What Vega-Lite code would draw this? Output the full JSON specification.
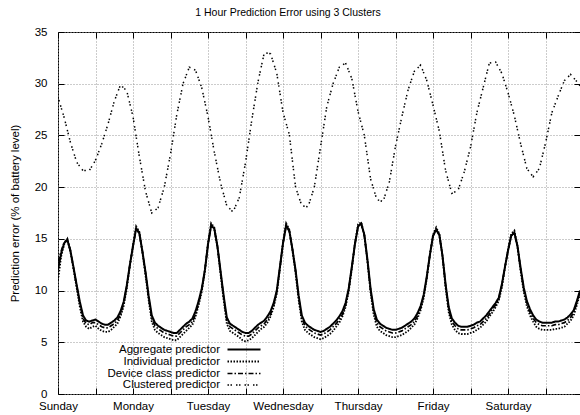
{
  "$schema": "https://vega.github.io/schema/vega-lite/v6.json",
  "width": 522,
  "height": 362,
  "autosize": "none",
  "padding": {"left": 58, "top": 32, "right": 0, "bottom": 21},
  "background": "white",
  "config": {
    "font": "Liberation Sans",
    "view": {"stroke": "black", "strokeWidth": 1},
    "axis": {"labelFont": "Liberation Sans", "labelFontSize": 11.5, "labelColor": "black", "titleFont": "Liberation Sans", "titleFontSize": 11.5, "titleFontWeight": "normal", "titleColor": "black", "tickColor": "black", "tickWidth": 1, "domain": false, "gridColor": "#999999", "gridDash": [1, 2], "gridWidth": 1}
  },
  "title": {"text": "1 Hour Prediction Error using 3 Clusters", "fontSize": 10.5, "fontWeight": "normal", "font": "Liberation Sans", "color": "black", "anchor": "middle", "dx": -31, "offset": 8},
  "datasets": {
    "lower": [
      {"h":0,"a":12.0,"i":11.0,"d":12.8},{"h":1,"a":13.6,"i":13.3,"d":13.8},{"h":2,"a":14.6,"i":14.5,"d":14.7},{"h":3,"a":14.9,"i":15.0,"d":14.9},{"h":4,"a":13.8,"i":13.7,"d":13.9},{"h":5,"a":12.2,"i":12.0,"d":12.1},{"h":6,"a":10.5,"i":10.2,"d":10.4},{"h":7,"a":8.9,"i":8.4,"d":8.7},{"h":8,"a":7.6,"i":7.0,"d":7.3},{"h":9,"a":7.1,"i":6.5,"d":6.8},
      {"h":10,"a":7.0,"i":6.3,"d":6.7},{"h":11,"a":7.1,"i":6.5,"d":6.9},{"h":12,"a":7.2,"i":6.6,"d":6.9},{"h":13,"a":7.0,"i":6.3,"d":6.7},{"h":14,"a":6.8,"i":6.1,"d":6.5},{"h":15,"a":6.7,"i":6.0,"d":6.4},{"h":16,"a":6.7,"i":6.0,"d":6.4},{"h":17,"a":6.9,"i":6.2,"d":6.6},{"h":18,"a":7.1,"i":6.5,"d":6.8},{"h":19,"a":7.4,"i":6.8,"d":7.1},
      {"h":20,"a":8.0,"i":7.5,"d":7.7},{"h":21,"a":8.9,"i":8.5,"d":8.7},{"h":22,"a":10.5,"i":10.2,"d":10.4},{"h":23,"a":12.5,"i":12.4,"d":12.5},{"h":24,"a":14.3,"i":14.4,"d":14.3},{"h":25,"a":16.0,"i":16.2,"d":16.0},{"h":26,"a":15.6,"i":15.7,"d":15.5},{"h":27,"a":13.8,"i":13.7,"d":13.8},{"h":28,"a":11.8,"i":11.5,"d":11.7},{"h":29,"a":9.5,"i":9.1,"d":9.3},
      {"h":30,"a":7.6,"i":7.0,"d":7.3},{"h":31,"a":6.9,"i":6.2,"d":6.6},{"h":32,"a":6.6,"i":5.9,"d":6.3},{"h":33,"a":6.4,"i":5.7,"d":6.1},{"h":34,"a":6.2,"i":5.5,"d":5.9},{"h":35,"a":6.1,"i":5.4,"d":5.8},{"h":36,"a":6.0,"i":5.3,"d":5.7},{"h":37,"a":5.9,"i":5.2,"d":5.6},{"h":38,"a":5.9,"i":5.2,"d":5.6},{"h":39,"a":6.2,"i":5.5,"d":5.9},
      {"h":40,"a":6.5,"i":5.8,"d":6.2},{"h":41,"a":6.8,"i":6.1,"d":6.5},{"h":42,"a":7.0,"i":6.4,"d":6.7},{"h":43,"a":7.3,"i":6.7,"d":7.0},{"h":44,"a":8.0,"i":7.5,"d":7.7},{"h":45,"a":9.0,"i":8.6,"d":8.8},{"h":46,"a":10.2,"i":9.9,"d":10.1},{"h":47,"a":12.0,"i":11.9,"d":12.0},{"h":48,"a":14.5,"i":14.6,"d":14.5},{"h":49,"a":16.3,"i":16.5,"d":16.3},
      {"h":50,"a":16.0,"i":16.1,"d":15.9},{"h":51,"a":14.3,"i":14.2,"d":14.3},{"h":52,"a":11.9,"i":11.6,"d":11.8},{"h":53,"a":9.5,"i":9.1,"d":9.3},{"h":54,"a":7.4,"i":6.8,"d":7.1},{"h":55,"a":6.8,"i":6.1,"d":6.5},{"h":56,"a":6.6,"i":5.9,"d":6.3},{"h":57,"a":6.4,"i":5.7,"d":6.1},{"h":58,"a":6.2,"i":5.5,"d":5.9},{"h":59,"a":6.0,"i":5.2,"d":5.7},
      {"h":60,"a":5.9,"i":5.1,"d":5.6},{"h":61,"a":5.9,"i":5.2,"d":5.6},{"h":62,"a":6.1,"i":5.4,"d":5.8},{"h":63,"a":6.4,"i":5.7,"d":6.1},{"h":64,"a":6.7,"i":6.0,"d":6.4},{"h":65,"a":6.9,"i":6.3,"d":6.6},{"h":66,"a":7.1,"i":6.5,"d":6.8},{"h":67,"a":7.5,"i":6.9,"d":7.2},{"h":68,"a":8.0,"i":7.5,"d":7.7},{"h":69,"a":8.8,"i":8.4,"d":8.6},
      {"h":70,"a":10.0,"i":9.7,"d":9.9},{"h":71,"a":12.3,"i":12.1,"d":12.2},{"h":72,"a":14.6,"i":14.7,"d":14.6},{"h":73,"a":16.3,"i":16.5,"d":16.3},{"h":74,"a":15.8,"i":15.9,"d":15.7},{"h":75,"a":14.0,"i":13.9,"d":14.0},{"h":76,"a":12.0,"i":11.7,"d":11.9},{"h":77,"a":9.5,"i":9.1,"d":9.3},{"h":78,"a":7.6,"i":7.0,"d":7.3},{"h":79,"a":6.9,"i":6.2,"d":6.6},
      {"h":80,"a":6.6,"i":5.9,"d":6.3},{"h":81,"a":6.4,"i":5.7,"d":6.1},{"h":82,"a":6.2,"i":5.5,"d":5.9},{"h":83,"a":6.1,"i":5.4,"d":5.8},{"h":84,"a":6.0,"i":5.3,"d":5.7},{"h":85,"a":6.1,"i":5.4,"d":5.8},{"h":86,"a":6.3,"i":5.6,"d":6.0},{"h":87,"a":6.5,"i":5.8,"d":6.2},{"h":88,"a":6.8,"i":6.1,"d":6.5},{"h":89,"a":7.1,"i":6.5,"d":6.8},
      {"h":90,"a":7.5,"i":6.9,"d":7.2},{"h":91,"a":8.0,"i":7.5,"d":7.7},{"h":92,"a":8.8,"i":8.4,"d":8.6},{"h":93,"a":10.2,"i":9.9,"d":10.1},{"h":94,"a":12.3,"i":12.1,"d":12.2},{"h":95,"a":14.5,"i":14.6,"d":14.5},{"h":96,"a":16.2,"i":16.4,"d":16.2},{"h":97,"a":16.5,"i":16.6,"d":16.4},{"h":98,"a":15.4,"i":15.4,"d":15.3},{"h":99,"a":13.0,"i":12.8,"d":12.9},
      {"h":100,"a":10.2,"i":9.8,"d":10.0},{"h":101,"a":8.2,"i":7.7,"d":8.0},{"h":102,"a":7.2,"i":6.5,"d":6.9},{"h":103,"a":6.8,"i":6.1,"d":6.5},{"h":104,"a":6.6,"i":5.9,"d":6.3},{"h":105,"a":6.4,"i":5.7,"d":6.1},{"h":106,"a":6.3,"i":5.6,"d":6.0},{"h":107,"a":6.2,"i":5.5,"d":5.9},{"h":108,"a":6.2,"i":5.5,"d":5.9},{"h":109,"a":6.3,"i":5.6,"d":6.0},
      {"h":110,"a":6.4,"i":5.7,"d":6.1},{"h":111,"a":6.6,"i":5.9,"d":6.3},{"h":112,"a":6.8,"i":6.1,"d":6.5},{"h":113,"a":7.0,"i":6.4,"d":6.7},{"h":114,"a":7.3,"i":6.7,"d":7.0},{"h":115,"a":7.8,"i":7.3,"d":7.5},{"h":116,"a":8.5,"i":8.1,"d":8.3},{"h":117,"a":9.6,"i":9.3,"d":9.5},{"h":118,"a":11.4,"i":11.2,"d":11.3},{"h":119,"a":13.5,"i":13.5,"d":13.5},
      {"h":120,"a":15.3,"i":15.4,"d":15.3},{"h":121,"a":15.9,"i":16.1,"d":15.9},{"h":122,"a":15.4,"i":15.5,"d":15.3},{"h":123,"a":13.4,"i":13.3,"d":13.4},{"h":124,"a":10.6,"i":10.3,"d":10.5},{"h":125,"a":8.4,"i":7.9,"d":8.2},{"h":126,"a":7.3,"i":6.7,"d":7.0},{"h":127,"a":6.9,"i":6.2,"d":6.6},{"h":128,"a":6.6,"i":5.9,"d":6.3},{"h":129,"a":6.5,"i":5.8,"d":6.2},
      {"h":130,"a":6.5,"i":5.8,"d":6.2},{"h":131,"a":6.5,"i":5.8,"d":6.2},{"h":132,"a":6.6,"i":5.9,"d":6.3},{"h":133,"a":6.7,"i":6.0,"d":6.4},{"h":134,"a":6.9,"i":6.2,"d":6.6},{"h":135,"a":7.0,"i":6.4,"d":6.7},{"h":136,"a":7.3,"i":6.7,"d":7.0},{"h":137,"a":7.6,"i":7.0,"d":7.3},{"h":138,"a":8.0,"i":7.5,"d":7.7},{"h":139,"a":8.4,"i":7.9,"d":8.2},
      {"h":140,"a":8.8,"i":8.4,"d":8.6},{"h":141,"a":9.3,"i":9.0,"d":9.2},{"h":142,"a":10.6,"i":10.3,"d":10.5},{"h":143,"a":12.3,"i":12.2,"d":12.3},{"h":144,"a":13.9,"i":14.0,"d":13.9},{"h":145,"a":15.3,"i":15.5,"d":15.3},{"h":146,"a":15.6,"i":15.8,"d":15.6},{"h":147,"a":14.3,"i":14.3,"d":14.2},{"h":148,"a":12.2,"i":11.9,"d":12.1},{"h":149,"a":10.3,"i":9.9,"d":10.1},
      {"h":150,"a":9.0,"i":8.5,"d":8.8},{"h":151,"a":8.2,"i":7.6,"d":7.9},{"h":152,"a":7.6,"i":7.0,"d":7.3},{"h":153,"a":7.2,"i":6.5,"d":6.9},{"h":154,"a":7.0,"i":6.3,"d":6.7},{"h":155,"a":6.9,"i":6.2,"d":6.6},{"h":156,"a":6.9,"i":6.2,"d":6.6},{"h":157,"a":6.9,"i":6.2,"d":6.6},{"h":158,"a":6.9,"i":6.2,"d":6.6},{"h":159,"a":7.0,"i":6.3,"d":6.7},
      {"h":160,"a":7.0,"i":6.3,"d":6.7},{"h":161,"a":7.1,"i":6.4,"d":6.8},{"h":162,"a":7.2,"i":6.5,"d":6.9},{"h":163,"a":7.4,"i":6.8,"d":7.1},{"h":164,"a":7.7,"i":7.1,"d":7.4},{"h":165,"a":8.1,"i":7.6,"d":7.9},{"h":166,"a":9.0,"i":8.6,"d":8.8},{"h":167,"a":10.0,"i":9.7,"d":9.9}
    ],
    "upper": [
      {"h":0,"c":28.7},{"h":2,"c":26.7},{"h":4,"c":24.3},{"h":6,"c":22.4},{"h":8,"c":21.6},{"h":10,"c":21.6},{"h":12,"c":22.6},{"h":14,"c":24.2},{"h":16,"c":26.1},{"h":18,"c":28.3},
      {"h":20,"c":29.9},{"h":22,"c":29.3},{"h":24,"c":26.8},{"h":26,"c":23.0},{"h":28,"c":19.6},{"h":30,"c":17.5},{"h":32,"c":18.0},{"h":34,"c":20.0},{"h":36,"c":23.2},{"h":38,"c":27.0},
      {"h":40,"c":30.0},{"h":42,"c":31.6},{"h":44,"c":31.3},{"h":46,"c":29.6},{"h":48,"c":26.8},{"h":50,"c":23.4},{"h":52,"c":20.4},{"h":54,"c":18.2},{"h":56,"c":17.6},{"h":58,"c":19.0},
      {"h":60,"c":22.4},{"h":62,"c":26.5},{"h":64,"c":30.2},{"h":66,"c":33.0},{"h":68,"c":32.9},{"h":70,"c":31.0},{"h":72,"c":27.2},{"h":74,"c":25.1},{"h":76,"c":20.0},{"h":78,"c":18.2},
      {"h":80,"c":18.1},{"h":82,"c":20.0},{"h":84,"c":23.9},{"h":86,"c":27.8},{"h":88,"c":30.0},{"h":90,"c":31.6},{"h":92,"c":32.0},{"h":94,"c":30.5},{"h":96,"c":27.3},{"h":98,"c":25.0},
      {"h":100,"c":20.8},{"h":102,"c":18.8},{"h":104,"c":18.6},{"h":106,"c":20.5},{"h":108,"c":24.0},{"h":110,"c":26.8},{"h":112,"c":29.4},{"h":114,"c":31.2},{"h":116,"c":31.8},{"h":118,"c":30.3},
      {"h":120,"c":27.9},{"h":122,"c":25.4},{"h":124,"c":21.6},{"h":126,"c":19.4},{"h":128,"c":19.7},{"h":130,"c":21.5},{"h":132,"c":23.9},{"h":134,"c":27.2},{"h":136,"c":29.6},{"h":138,"c":32.0},
      {"h":140,"c":32.1},{"h":142,"c":31.0},{"h":144,"c":29.1},{"h":146,"c":26.9},{"h":148,"c":24.2},{"h":150,"c":21.8},{"h":152,"c":21.0},{"h":154,"c":21.8},{"h":156,"c":24.3},{"h":158,"c":27.2},
      {"h":160,"c":28.8},{"h":162,"c":30.3},{"h":164,"c":30.9},{"h":166,"c":30.2},{"h":167,"c":29.8}
    ]
  },
  "resolve": {"axis": {"x": "independent", "y": "independent"}},
  "layer": [
    {
      "data": {"name": "lower"},
      "transform": [{"fold": ["a", "i", "d"], "as": ["s", "v"]}],
      "mark": {"type": "line", "color": "black", "clip": true},
      "encoding": {
        "x": {"field": "h", "type": "quantitative", "scale": {"domain": [0, 167], "nice": false, "zero": false},
          "axis": {"orient": "bottom", "values": [0, 12, 24, 36, 48, 60, 72, 84, 96, 108, 120, 132, 144, 156], "labelExpr": "datum.value == 0 ? 'Sunday' : datum.value == 24 ? 'Monday' : datum.value == 48 ? 'Tuesday' : datum.value == 72 ? 'Wednesday' : datum.value == 96 ? 'Thursday' : datum.value == 120 ? 'Friday' : datum.value == 144 ? 'Saturday' : ''", "grid": true, "tickSize": -6, "labelPadding": 12, "title": null, "labelFlush": false, "labelOverlap": false}},
        "y": {"field": "v", "type": "quantitative", "scale": {"domain": [0, 35], "nice": false},
          "axis": {"orient": "left", "values": [0, 5, 10, 15, 20, 25, 30, 35], "grid": true, "tickSize": -6, "labelPadding": 17, "title": "Prediction error (% of battery level)", "titlePadding": 14}},
        "strokeDash": {"field": "s", "type": "nominal",
          "scale": {"domain": ["a", "i", "d", "c"], "range": [[1, 0], [1.5, 1.5], [5, 2, 1.5, 2], [1.5, 1.5, 1.5, 4]]},
          "legend": {"orient": "none", "legendX": 169, "legendY": 311, "title": null, "symbolType": "M-1.143,0H5.143", "symbolSize": 110.25, "symbolStrokeWidth": 1.5, "symbolStrokeColor": "black", "symbolOpacity": 1, "labelAlign": "right", "labelOffset": -20, "padding": 0, "rowPadding": 0, "labelFontSize": 11.5, "labelFont": "Liberation Sans", "labelColor": "black", "labelLimit": 0,
            "labelExpr": "datum.label == 'a' ? 'Aggregate predictor' : datum.label == 'i' ? 'Individual predictor' : datum.label == 'd' ? 'Device class predictor' : 'Clustered predictor'",
            "encode": {"symbols": {"update": {"stroke": {"value": "black"}, "strokeWidth": {"value": 1.5}, "opacity": {"value": 1}, "fill": {"value": "transparent"}}}}}},
        "strokeWidth": {"field": "s", "type": "nominal", "scale": {"domain": ["a", "i", "d", "c"], "range": [2, 1.5, 1.5, 2]}, "legend": null}
      }
    },
    {
      "data": {"name": "upper"},
      "transform": [{"fold": ["c"], "as": ["s", "v"]}],
      "mark": {"type": "line", "color": "black", "clip": true},
      "encoding": {
        "x": {"field": "h", "type": "quantitative", "axis": {"orient": "top", "values": [0, 12, 24, 36, 48, 60, 72, 84, 96, 108, 120, 132, 144, 156], "labels": false, "grid": false, "tickSize": -6, "title": null}},
        "y": {"field": "v", "type": "quantitative", "axis": {"orient": "right", "values": [0, 5, 10, 15, 20, 25, 30, 35], "labels": false, "grid": false, "tickSize": -6, "title": null}},
        "strokeDash": {"field": "s", "type": "nominal"},
        "strokeWidth": {"field": "s", "type": "nominal", "legend": null}
      }
    }
  ]
}
